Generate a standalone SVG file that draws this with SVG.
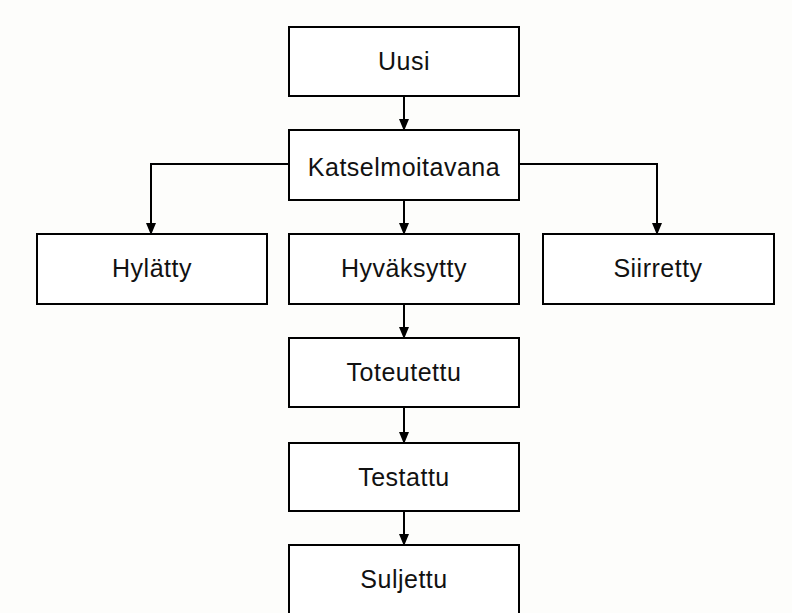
<svg xmlns="http://www.w3.org/2000/svg" width="792" height="613" viewBox="0 0 792 613">
<style>
.box{fill:#ffffff;stroke:#000;stroke-width:2}
.lbl{font-family:"Liberation Sans",Arial,sans-serif;font-size:25px;fill:#111;text-anchor:middle;letter-spacing:0.5px}
.conn{fill:none;stroke:#000;stroke-width:2}
</style>
<defs>
<marker id="ah" viewBox="0 0 10 12" refX="10" refY="5" markerWidth="10" markerHeight="12" markerUnits="userSpaceOnUse" orient="auto">
<path d="M0,0 L12,5 L0,10 Z" fill="#000"/>
</marker>
</defs>
<rect x="0" y="0" width="792" height="613" fill="#fdfdfb"/>
<g id="connectors">
<path class="conn" d="M404,96 V129" marker-end="url(#ah)"/>
<path class="conn" d="M289,164 H151 V233" marker-end="url(#ah)"/>
<path class="conn" d="M519,164 H657 V233" marker-end="url(#ah)"/>
<path class="conn" d="M404,200 V233" marker-end="url(#ah)"/>
<path class="conn" d="M404,304 V337" marker-end="url(#ah)"/>
<path class="conn" d="M404,407 V442" marker-end="url(#ah)"/>
<path class="conn" d="M404,511 V544" marker-end="url(#ah)"/>
</g>
<g id="uusi"><rect class="box" x="289" y="27" width="230" height="69"/><text class="lbl" x="404" y="70">Uusi</text></g>
<g id="katselmoitavana"><rect class="box" x="289" y="130" width="230" height="70"/><text class="lbl" x="404" y="176">Katselmoitavana</text></g>
<g id="hylatty"><rect class="box" x="37" y="234" width="230" height="70"/><text class="lbl" x="152" y="277">Hylätty</text></g>
<g id="hyvaksytty"><rect class="box" x="289" y="234" width="230" height="70"/><text class="lbl" x="404" y="277">Hyväksytty</text></g>
<g id="siirretty"><rect class="box" x="543" y="234" width="231" height="70"/><text class="lbl" x="658" y="277">Siirretty</text></g>
<g id="toteutettu"><rect class="box" x="289" y="338" width="230" height="69"/><text class="lbl" x="404" y="381">Toteutettu</text></g>
<g id="testattu"><rect class="box" x="289" y="443" width="230" height="68"/><text class="lbl" x="404" y="486">Testattu</text></g>
<g id="suljettu"><rect class="box" x="289" y="545" width="230" height="80"/><text class="lbl" x="404" y="588">Suljettu</text></g>
</svg>
